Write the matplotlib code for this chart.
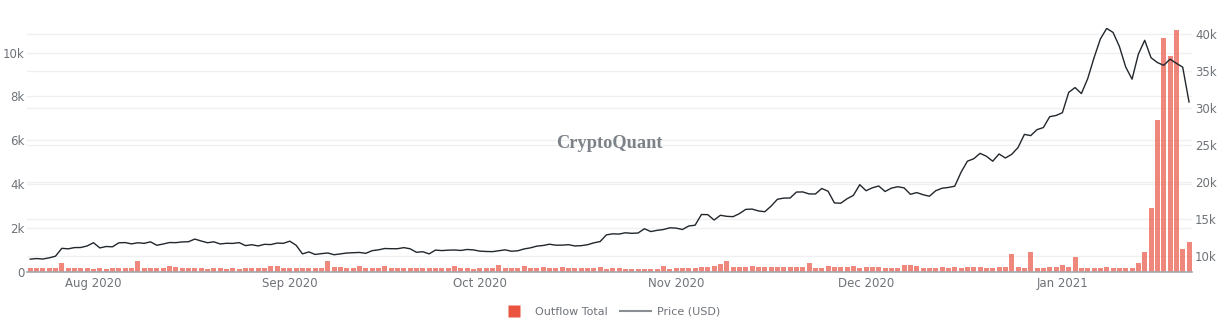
import matplotlib
matplotlib.use('Agg')
import matplotlib.pyplot as plt
import matplotlib.dates as mdates
import matplotlib.ticker as mticker
import pandas as pd
from matplotlib.lines import Line2D

# ---------------- data ----------------
dates = pd.date_range('2020-07-22', '2021-01-21', freq='D')

outflow_total = [
    150, 150, 150, 150, 160, 410, 160, 150, 160, 160,            # Jul 22-31
    140, 150, 140, 150, 150, 170, 160, 490, 170, 160,            # Aug 1-10
    160, 190, 260, 200, 160, 150, 150, 150, 140, 150,            # Aug 11-20
    150, 140, 150, 140, 150, 150, 150, 160, 250, 250, 160,       # Aug 21-31
    150, 160, 170, 180, 170, 180, 490, 220, 220, 160,            # Sep 1-10
    170, 260, 190, 190, 180, 270, 190, 180, 190, 180,            # Sep 11-20
    160, 150, 150, 150, 150, 160, 250, 150, 150, 140,            # Sep 21-30
    150, 160, 170, 300, 170, 160, 170, 270, 170, 160,            # Oct 1-10
    220, 170, 170, 220, 180, 170, 180, 160, 160, 220,            # Oct 11-20
    130, 150, 160, 140, 130, 130, 130, 120, 110, 260, 110,       # Oct 21-31
    160, 160, 150, 160, 210, 210, 260, 370, 480, 200,            # Nov 1-10
    200, 200, 250, 200, 200, 200, 200, 200, 200, 200,            # Nov 11-20
    200, 400, 190, 190, 260, 200, 200, 200, 250, 190,            # Nov 21-30
    220, 200, 220, 190, 190, 190, 310, 300, 260, 170,            # Dec 1-10
    170, 170, 220, 150, 200, 190, 220, 200, 220, 190,            # Dec 11-20
    190, 200, 200, 800, 200, 190, 910, 170, 170, 220, 200,       # Dec 21-31
    290, 200, 680, 190, 170, 170, 170, 220, 190, 190,            # Jan 1-10
    170, 170, 380, 900, 2890, 6930, 10650, 9850, 11040, 1020,    # Jan 11-20
    1370,                                                        # Jan 21
]

price_usd = [
    9537, 9613, 9550, 9707, 9934, 11000, 10930, 11100, 11111, 11323,          # Jul 22-31
    11759, 11053, 11246, 11205, 11747, 11779, 11601, 11754, 11675, 11878,     # Aug 1-10
    11411, 11584, 11784, 11769, 11865, 11892, 12254, 11991, 11758, 11879,     # Aug 11-20
    11593, 11682, 11664, 11774, 11366, 11488, 11323, 11542, 11507, 11711, 11680,  # Aug 21-31
    11970, 11414, 10245, 10512, 10169, 10280, 10369, 10131, 10242, 10363,     # Sep 1-10
    10400, 10442, 10323, 10680, 10796, 10974, 10948, 10944, 11094, 10938,     # Sep 11-20
    10462, 10538, 10246, 10760, 10692, 10750, 10775, 10709, 10844, 10784,     # Sep 21-30
    10619, 10575, 10549, 10669, 10793, 10604, 10668, 10915, 11064, 11296,     # Oct 1-10
    11384, 11555, 11425, 11429, 11495, 11322, 11358, 11483, 11742, 11916,     # Oct 11-20
    12823, 12965, 12931, 13108, 13031, 13075, 13654, 13271, 13437, 13546, 13780,  # Oct 21-31
    13737, 13550, 14023, 14133, 15579, 15565, 14833, 15479, 15332, 15290,     # Nov 1-10
    15701, 16276, 16317, 16068, 15955, 16716, 17645, 17804, 17817, 18621,     # Nov 11-20
    18642, 18370, 18364, 19107, 18732, 17150, 17108, 17717, 18177, 19625,     # Nov 21-30
    18803, 19202, 19445, 18699, 19154, 19345, 19191, 18321, 18553, 18264,     # Dec 1-10
    18058, 18803, 19142, 19246, 19417, 21310, 22805, 23137, 23869, 23477,     # Dec 11-20
    22803, 23783, 23241, 23735, 24664, 26437, 26272, 27084, 27362, 28841, 29001,  # Dec 21-31
    29374, 32127, 32782, 31971, 33992, 36824, 39371, 40797, 40254, 38356,     # Jan 1-10
    35566, 33922, 37316, 39187, 36825, 36178, 35792, 36630, 36069, 35547,     # Jan 11-20
    30825,                                                                     # Jan 21
]

left_ticks = [0, 2000, 4000, 6000, 8000, 10000]
right_ticks = [10000, 15000, 20000, 25000, 30000, 35000, 40000]

# ---------------- style ----------------
plt.rcParams['font.family'] = ['DejaVu Sans']
TXT = '#6e7378'
GRID = '#f0f0f0'
BAR = '#ea5545'
LINE = '#22272c'

W, H = 1225, 322
fig = plt.figure(figsize=(W / 100, H / 100), dpi=100)
fig.patch.set_facecolor('white')

x0, x1 = 27.0, 1192.2
y_top, y_bot = 28.0, 271.7
rect = [x0 / W, (H - y_bot) / H, (x1 - x0) / W, (y_bot - y_top) / H]

axB = fig.add_axes(rect)
axP = axB.twinx()
axG = axB.twinx()

axG.set_zorder(0)
axB.set_zorder(1)
axP.set_zorder(2)
axG.patch.set_visible(True)
axG.patch.set_facecolor('white')
axB.patch.set_visible(False)
axP.patch.set_visible(False)

# bars
axB.bar(dates, outflow_total, width=0.8, color=BAR, alpha=0.7, linewidth=0, zorder=2)
# price line
axP.plot(dates, price_usd, color=LINE, lw=1.0, zorder=3)

xmin = dates[0] - pd.Timedelta(hours=12)
xmax = dates[-1] + pd.Timedelta(hours=12)
axB.set_xlim(xmin, xmax)

left_max = (y_bot - y_top) / 21.9 * 1000
axB.set_ylim(0, left_max)
r_lo = 10000 - (y_bot - 255.7) / 7.38 * 1000
r_hi = 10000 + (255.7 - y_top) / 7.38 * 1000
axP.set_ylim(r_lo, r_hi)
axG.set_ylim(r_lo, r_hi)

kfmt = mticker.FuncFormatter(lambda v, p: '0' if v == 0 else f'{int(round(v / 1000))}k')

axB.set_yticks(left_ticks)
axB.yaxis.set_major_formatter(kfmt)
axB.tick_params(axis='y', length=0, pad=1.5, labelsize=8.5, labelcolor=TXT)
axB.grid(axis='y', color=GRID, lw=1.0)
axB.set_axisbelow(True)

axP.set_yticks(right_ticks)
axP.yaxis.set_major_formatter(kfmt)
axP.tick_params(axis='y', length=0, pad=2, labelsize=8.5, labelcolor=TXT)

axG.set_yticks(right_ticks)
axG.grid(axis='y', color=GRID, lw=1.0)
axG.tick_params(axis='y', length=0, labelright=False, labelleft=False)

axB.xaxis.set_major_locator(mdates.MonthLocator())
axB.xaxis.set_major_formatter(mdates.DateFormatter('%b %Y'))
axB.tick_params(axis='x', length=0, pad=4, labelsize=8.5, labelcolor=TXT)

for a in (axB, axP, axG):
    for s in a.spines.values():
        s.set_visible(False)
axB.spines['bottom'].set_visible(True)
axB.spines['bottom'].set_color('#a3a8ad')
axB.spines['bottom'].set_linewidth(1.2)

# watermark
fig.text(609 / W, 1 - 143 / H, 'CryptoQuant', family='Liberation Serif', weight='bold',
         fontsize=13.2, color='#7c8288', ha='center', va='center')

# legend
handles = [Line2D([0], [0], marker='s', linestyle='none', markersize=9,
                  markerfacecolor='#e9533f', markeredgecolor='none'),
           Line2D([0], [0], color='#8a8f94', lw=1.5)]
leg = fig.legend(handles, ['Outflow Total', 'Price (USD)'], loc='center',
                 bbox_to_anchor=(609 / W, 1 - 312 / H), ncol=2, frameon=False,
                 fontsize=8, handlelength=2.8, columnspacing=1.1,
                 handletextpad=0.5)
for t in leg.get_texts():
    t.set_color(TXT)

fig.savefig('out.png', dpi=100, facecolor='white')
